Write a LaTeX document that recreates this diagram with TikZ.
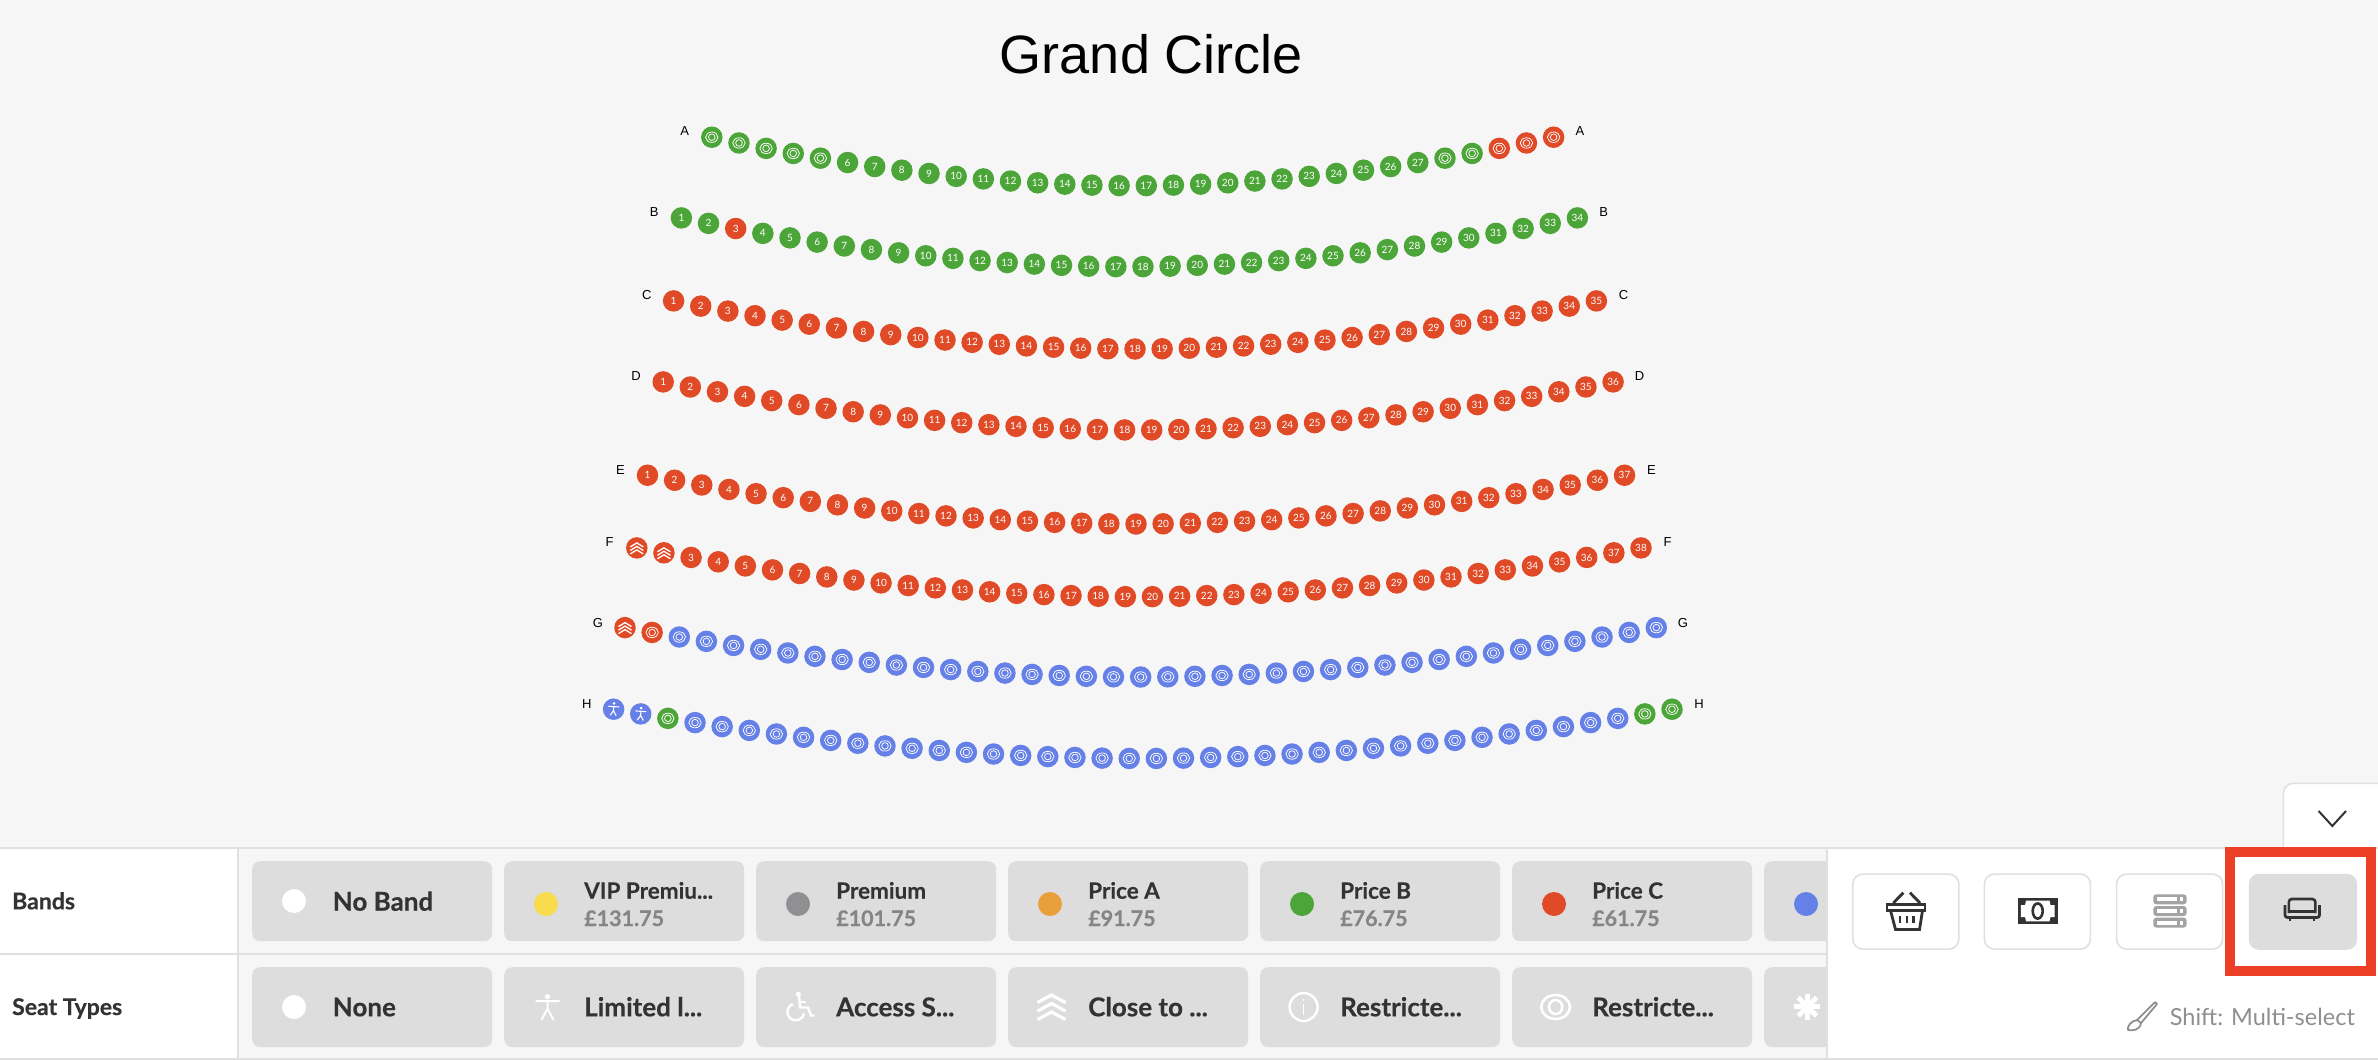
\documentclass[tikz,border=0pt]{standalone}
\usepackage{fontspec}
\usetikzlibrary{calc}
\setmainfont{Lato}[BoldFeatures={FakeBold=0.4}]
\newfontfamily\arialish{Liberation Sans}
\definecolor{pagebg}{HTML}{F6F6F6}
\definecolor{rulegrey}{HTML}{E0E0E0}
\definecolor{btngrey}{HTML}{DDDDDD}
\definecolor{inkdark}{HTML}{333333}
\definecolor{pricegrey}{HTML}{858585}
\definecolor{softgrey}{HTML}{8F8F8F}
\definecolor{serverg}{HTML}{A3A3A3}
\definecolor{sgreen}{HTML}{4CA538}
\definecolor{sred}{HTML}{E04A26}
\definecolor{sblue}{HTML}{6580E6}
\definecolor{syellow}{HTML}{F8DC4B}
\definecolor{sgrey}{HTML}{8F9092}
\definecolor{sorange}{HTML}{E89F3C}
\definecolor{markred}{HTML}{EC3F25}
\newcommand{\px}[1]{\fontsize{#1}{#1}\selectfont}
\tikzset{
  seat/.style={circle,minimum size=21.5pt,inner sep=0pt,text=white,font=\px{10}},
  rowlabel/.style={inner sep=0pt,font=\arialish\px{13},text=black},
  btn/.style={anchor=north west,fill=btngrey,rounded corners=8pt,minimum width=240pt,minimum height=80pt,inner sep=0pt},
  tool/.style={anchor=north west,fill=white,draw=rulegrey,line width=1.6pt,rounded corners=10pt,minimum width=106pt,minimum height=75pt,inner sep=0pt},
  dot/.style={circle,minimum size=24pt,inner sep=0pt},
  head/.style={anchor=base west,inner sep=0pt,font=\bfseries\px{23},text=inkdark},
  big/.style={anchor=base west,inner sep=0pt,font=\bfseries\px{26},text=inkdark},
  mid/.style={anchor=base west,inner sep=0pt,font=\bfseries\px{22.5},text=inkdark},
  price/.style={anchor=base west,inner sep=0pt,font=\bfseries\px{21.5},text=pricegrey},
  rulel/.style={draw=rulegrey,line width=2pt},
  seatline/.style={draw=white,line width=0.75pt},
  whitebig/.style={draw=white,line width=2.4pt},
}
% seat icons, drawn round the seat node
\newcommand{\seatNone}[1]{}
\newcommand{\seatEye}[1]{\begin{scope}[shift={(#1.center)}]
  \draw[seatline] (0,0) ellipse (6.2pt and 5.2pt);
  \draw[seatline] (0,0) ellipse (3.3pt and 3.3pt);
\end{scope}}
\newcommand{\seatChev}[1]{\begin{scope}[shift={(#1.center)}]
  \foreach \cy in {-3,0.5,4}{\draw[draw=white,line width=1.3pt] (-6.5,\cy+2) -- (0,\cy-2) -- (6.5,\cy+2);}
\end{scope}}
\newcommand{\seatPerson}[1]{\begin{scope}[shift={(#1.center)},rotate=-4]
  \fill[white] (0,-5.8) circle (1.5pt);
  \draw[draw=white,line width=1.1pt] (-5.5,-2.6) -- (5.5,-2.6) (0,-2.6) -- (0,1.5) -- (-3,6.3) (0,1.5) -- (3,6.3);
\end{scope}}
% one curved row of seats: name, x first, x last, y at the ends, y at the middle, count, rule
\newcommand{\seatrow}[7]{%
  \foreach \i in {1,...,#6}{%
    \pgfmathsetmacro\sx{#2+(\i-1)/(#6-1)*(#3-#2)}%
    \pgfmathsetmacro\du{abs(\i-(#6+1)/2)/((#6-1)/2)+0.001}%
    \pgfmathsetmacro\sy{#5-(#5-#4)*pow(\du,1.9)}%
    \def\seatfill{sred}\let\seaticon\seatNone\def\seatlab{\i}%
    #7%
    \node[seat,fill=\seatfill] (s#1\i) at (\sx,\sy) {\seatlab};
    \seaticon{s#1\i}%
  }%
}
\newcommand{\useEye}{\let\seaticon\seatEye\def\seatlab{}}
\newcommand{\useChev}{\let\seaticon\seatChev\def\seatlab{}}
\newcommand{\usePerson}{\let\seaticon\seatPerson\def\seatlab{}}
\begin{document}
\begin{tikzpicture}[x=1pt,y=-1pt]
\useasboundingbox (0,0) rectangle (2378,1060);
\fill[pagebg] (0,0) rectangle (2378,1060);
\node[inner sep=0pt,font=\arialish\px{54}] (title) at (1151.5,54) {Grand Circle};

% seats
\seatrow{A}{711.8}{1553.6}{137.3}{185.7}{32}{\def\seatfill{sgreen}\ifnum\i>29 \def\seatfill{sred}\fi\ifnum\i<6 \useEye\fi\ifnum\i>27 \useEye\fi}
\seatrow{B}{681.4}{1577.4}{218}{266.7}{34}{\def\seatfill{sgreen}\ifnum\i=3 \def\seatfill{sred}\fi}
\seatrow{C}{673.6}{1596.4}{301}{349}{35}{}
\seatrow{D}{663.2}{1613.1}{382}{430}{36}{}
\seatrow{E}{647.5}{1624.5}{475.3}{524}{37}{}
\seatrow{F}{636.8}{1641}{548}{596.7}{38}{\ifnum\i<3 \useChev\fi}
\seatrow{G}{625}{1656.3}{627.7}{677}{39}{\ifnum\i>2 \def\seatfill{sblue}\fi\useEye\ifnum\i=1 \useChev\fi}
\seatrow{H}{613.6}{1672}{709.3}{758.5}{40}{\def\seatfill{sblue}\useEye\ifnum\i<3 \usePerson\fi\ifnum\i=3 \def\seatfill{sgreen}\fi\ifnum\i>38 \def\seatfill{sgreen}\fi}

% row letters
\node[rowlabel] (la) at (684.6,130.7) {A};  \node[rowlabel] (ra) at (1580,130.7) {A};
\node[rowlabel] (lb) at (654.3,211.7) {B};  \node[rowlabel] (rb) at (1603.6,211.7) {B};
\node[rowlabel] (lc) at (646.8,294.7) {C};  \node[rowlabel] (rc) at (1623.6,294.7) {C};
\node[rowlabel] (ld) at (636,376) {D};      \node[rowlabel] (rd) at (1639.5,376) {D};
\node[rowlabel] (le) at (620.4,470) {E};    \node[rowlabel] (re) at (1651.5,470) {E};
\node[rowlabel] (lf) at (609.6,541.7) {F};  \node[rowlabel] (rf) at (1667.6,541.7) {F};
\node[rowlabel] (lg) at (597.9,622.7) {G};  \node[rowlabel] (rg) at (1682.8,622.7) {G};
\node[rowlabel] (lh) at (586.8,703.7) {H};  \node[rowlabel] (rh) at (1699,703.7) {H};

% collapse tab
\draw[fill=white,draw=rulegrey,line width=1.6pt,rounded corners=10pt] (2283.4,850) -- (2283.4,783.3) -- (2390,783.3) -- (2390,850);
\draw[draw=inkdark,line width=2pt] (2318.6,811) -- (2332.3,826) -- (2346,811);

% panel
\fill[white] (0,848) rectangle (238,1060);
\draw[rulel] (0,848) -- (2378,848);
\draw[rulel] (0,953.7) -- (1827,953.7);
\draw[rulel] (0,1059.3) -- (2378,1059.3);
\draw[rulel] (238,848) -- (238,1060);
\node[head] (bandsl) at (12,909.3) {Bands};
\node[head] (typesl) at (12,1015) {Seat Types};

% band buttons
\node[btn] (b1) at (252,861) {};
\node[btn] (b2) at (504,861) {};
\node[btn] (b3) at (756,861) {};
\node[btn] (b4) at (1008,861) {};
\node[btn] (b5) at (1260,861) {};
\node[btn] (b6) at (1512,861) {};
\node[btn] (b7) at (1764,861) {};
\node[dot,fill=white] (d1) at (294,901) {};
\node[big] (t1) at (332.6,910.7) {No Band};
\node[dot,fill=syellow] (d2) at (546,904) {};
\node[mid] (t2) at (584,898.7) {VIP Premiu...};
\node[price] (p2) at (584,926) {£131.75};
\node[dot,fill=sgrey] (d3) at (798,904) {};
\node[mid] (t3) at (836,898.7) {Premium};
\node[price] (p3) at (836,926) {£101.75};
\node[dot,fill=sorange] (d4) at (1050,904) {};
\node[mid] (t4) at (1088,898.7) {Price A};
\node[price] (p4) at (1088,926) {£91.75};
\node[dot,fill=sgreen] (d5) at (1302,904) {};
\node[mid] (t5) at (1340,898.7) {Price B};
\node[price] (p5) at (1340,926) {£76.75};
\node[dot,fill=sred] (d6) at (1554,904) {};
\node[mid] (t6) at (1592,898.7) {Price C};
\node[price] (p6) at (1592,926) {£61.75};
\node[dot,fill=sblue] (d7) at (1806,904) {};

% seat type buttons
\node[btn] (c1) at (252,967) {};
\node[btn] (c2) at (504,967) {};
\node[btn] (c3) at (756,967) {};
\node[btn] (c4) at (1008,967) {};
\node[btn] (c5) at (1260,967) {};
\node[btn] (c6) at (1512,967) {};
\node[btn] (c7) at (1764,967) {};
\node[dot,fill=white] (e1) at (294,1007) {};
\node[big] (u1) at (332.6,1016.3) {None};
\node[big] (u2) at (584,1016.3) {Limited l...};
\node[big] (u3) at (836,1016.3) {Access S...};
\node[big] (u4) at (1088,1016.3) {Close to ...};
\node[big] (u5) at (1340,1016.3) {Restricte...};
\node[big] (u6) at (1592,1016.3) {Restricte...};
% person
\fill[white] (547.5,996.6) circle (2.6pt);
\draw[whitebig,line width=2pt] (535.5,1001) -- (559.5,1001) (547.5,1001) -- (547.5,1008.5) -- (541.5,1020) (547.5,1008.5) -- (553.5,1020);
% wheelchair
\fill[white] (798.3,994.3) circle (2.5pt);
\draw[whitebig] (799,995) -- (800,1007.5) -- (808,1007.5) -- (811,1015.5) -- (814.5,1015.5);
\draw[whitebig] (799.5,1002) -- (805.5,1002);
\draw[whitebig] (792.9,1004) arc[start angle=110,end angle=350,radius=8.4pt];
% close-to chevrons
\foreach \cy in {995,1003.5,1012}{\draw[whitebig,line width=3.2pt] (1037.5,\cy+7.5) -- (1051.5,\cy) -- (1065.5,\cy+7.5);}
% info
\draw[whitebig] (1303.6,1007) circle (14pt);
\fill[white] (1303.6,1000) circle (1.1pt);
\draw[draw=white,line width=1.2pt] (1303.6,1004) -- (1303.6,1014.5);
% eye
\draw[whitebig,line width=2.6pt] (1555.6,1007) ellipse (14.4pt and 12pt);
\draw[whitebig,line width=2.6pt] (1555.6,1007) ellipse (6.6pt and 7pt);
% asterisk
\foreach \ca in {0,45,90,135}{\draw[draw=white,line width=5pt] ($(1807.4,1006.7)+(\ca:13pt)$) -- ($(1807.4,1006.7)+(\ca+180:13pt)$);}

% right panel
\fill[white] (1828,849) rectangle (2378,1058.3);
\draw[rulel] (1827,848) -- (1827,1060);
\node[tool] (tb1) at (1852,873.3) {};
\node[tool] (tb2) at (1983.6,873.3) {};
\node[tool] (tb3) at (2115.8,873.3) {};
\node[tool,fill=btngrey,draw=none,minimum width=108.3pt,minimum height=76pt] (tb4) at (2248,873) {};

% basket
\draw[draw=inkdark,line width=2.8pt] (1903.3,892.7) -- (1893.3,903) (1910,892.7) -- (1920,903);
\draw[draw=inkdark,line width=2.8pt] (1887,904.5) rectangle (1925,910.5);
\draw[draw=inkdark,line width=2.8pt] (1890.5,910.5) -- (1895.5,929.5) -- (1919.5,929.5) -- (1922.5,910.5);
\draw[draw=inkdark,line width=2.2pt] (1900,916) -- (1900,923) (1906.7,916) -- (1906.7,923) (1913.4,916) -- (1913.4,923);
% bill
\fill[inkdark] (2017.9,897.7) rectangle (2057.6,924.3);
\fill[white] (2020.9,905) -- (2025,905) -- (2026,900.7) -- (2049.5,900.7) -- (2050.5,905) -- (2054.6,905) -- (2054.6,917) -- (2050.5,917) -- (2049.5,921.3) -- (2026,921.3) -- (2025,917) -- (2020.9,917) -- cycle;
\draw[draw=inkdark,line width=2.6pt] (2037.7,911) ellipse (5pt and 7.6pt);
% server
\foreach \sv in {894.3,906,917.6}{
  \fill[serverg,rounded corners=3pt] (2153.3,\sv) rectangle (2186.6,\sv+10);
  \fill[white] (2156.5,\sv+3) rectangle (2177,\sv+7);
  \fill[white] (2180,\sv+3) rectangle (2183.4,\sv+7);
}
% armchair
\draw[draw=inkdark,line width=2.6pt,rounded corners=3pt] (2288.8,913) -- (2288.8,899) -- (2315.3,899) -- (2315.3,913);
\draw[draw=inkdark,line width=2.6pt] (2288.8,911.5) -- (2315.3,911.5);
\draw[draw=inkdark,line width=2.8pt,rounded corners=2.5pt] (2285,905) -- (2285,917.5) -- (2319.5,917.5) -- (2319.5,905);
\draw[draw=inkdark,line width=2.6pt] (2290,918) -- (2290,921) (2314,918) -- (2314,921);
% marker frame
\draw[draw=markred,line width=10pt] (2230.3,852.3) rectangle (2371.2,971);
% brush and hint
\draw[draw=softgrey,line width=1.8pt,line join=round] (2155,1002) -- (2157,1004) -- (2141,1023) (2155,1002) -- (2137,1020) (2137,1020) .. controls (2131,1021) and (2127,1026) .. (2128,1030) .. controls (2133,1031) and (2140,1030) .. (2141,1023) -- cycle;
\node[anchor=base west,inner sep=0pt,font=\px{23.5},text=softgrey] (hint) at (2169.7,1025.7) {Shift: Multi-select};
\end{tikzpicture}
\end{document}
